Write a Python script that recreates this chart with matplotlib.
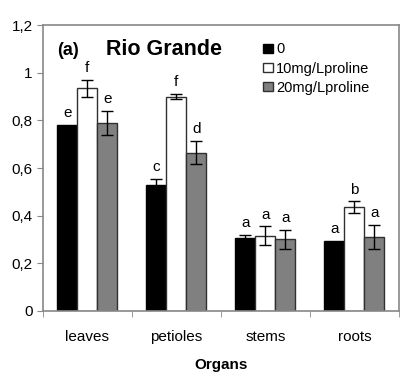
import numpy as np
import matplotlib.pyplot as plt
from matplotlib.ticker import FuncFormatter

plt.rcParams["font.family"] = ["Liberation Sans", "DejaVu Sans"]

# Dane
organs = ["leaves", "petioles", "stems", "roots"]
series = ["0", "10mg/Lproline", "20mg/Lproline"]
vals_0 = [0.78, 0.53, 0.305, 0.295]
vals_10 = [0.935, 0.90, 0.315, 0.435]
vals_20 = [0.79, 0.665, 0.30, 0.31]
err_0 = [0.0, 0.025, 0.015, 0.0]
err_10 = [0.035, 0.01, 0.04, 0.025]
err_20 = [0.05, 0.05, 0.04, 0.05]
letters_0 = ["e", "c", "a", "a"]
letters_10 = ["f", "f", "a", "b"]
letters_20 = ["e", "d", "a", "a"]

colors = ["black", "white", "#808080"]
edges = ["black", "#303030", "#303030"]

fig = plt.figure(figsize=(4.05, 3.81), dpi=100)
ax = fig.add_axes([0.106, 0.184, 0.879, 0.750])

x = np.arange(len(organs))
w = 0.225
data = [(vals_0, err_0, letters_0), (vals_10, err_10, letters_10), (vals_20, err_20, letters_20)]
for i, (v, e, lab) in enumerate(data):
    pos = x + (i - 1) * w
    ax.bar(pos, v, w, color=colors[i], edgecolor=edges[i], linewidth=1.0,
           label=series[i], zorder=2)
    # słupki błędów tylko tam gdzie są
    m = np.array(e) > 0
    ax.errorbar(pos[m], np.array(v)[m], yerr=np.array(e)[m], fmt="none", ecolor="black",
                elinewidth=1.0, capsize=4, capthick=1.0, zorder=3)
    for p, val, err, t in zip(pos, v, e, lab):
        ax.text(p, val + err + 0.02, t, ha="center", va="bottom", fontsize=11)

ax.set_xlim(-0.5, len(organs) - 0.5)
ax.set_ylim(0, 1.2)
ax.set_yticks(np.arange(0, 1.21, 0.2))
ax.yaxis.set_major_formatter(FuncFormatter(lambda v, p: ("%.1f" % v).rstrip("0").rstrip(".").replace(".", ",")))
ax.set_xticks(x)
ax.set_xticklabels(organs, fontsize=11)
ax.set_xticks(np.arange(-0.5, len(organs)), minor=True)
ax.tick_params(axis="x", which="major", length=0, pad=14)
ax.tick_params(axis="x", which="minor", length=4, color="#888888", direction="out")
ax.tick_params(axis="y", length=4, color="#888888", labelsize=11)
for s in ax.spines.values():
    s.set_color("#888888")
    s.set_linewidth(1.2)

ax.set_xlabel("Organs", fontsize=11, fontweight="bold", labelpad=10)
ax.text(0.04, 0.91, "(a)", transform=ax.transAxes, fontsize=13, fontweight="bold", va="center")
ax.text(0.34, 0.915, "Rio Grande", transform=ax.transAxes, fontsize=15.5, fontweight="bold",
        ha="center", va="center")
ax.legend(loc="upper left", bbox_to_anchor=(0.59, 0.975), frameon=False, fontsize=10.5,
          handlelength=0.7, handleheight=0.6, handletextpad=0.2, labelspacing=0.35,
          borderpad=0.2)

plt.savefig("out.png", dpi=100)
